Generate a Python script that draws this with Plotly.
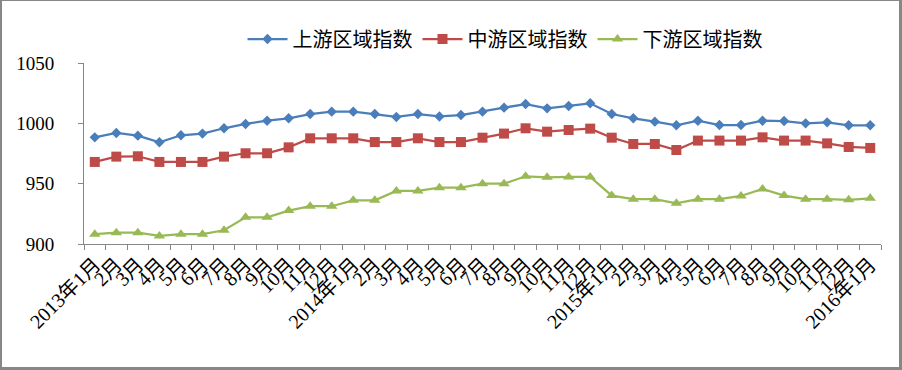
import plotly.graph_objects as go

months = (["2013年1月"] + [f"{m}月" for m in range(2, 13)] +
          ["2014年1月"] + [f"{m}月" for m in range(2, 13)] +
          ["2015年1月"] + [f"{m}月" for m in range(2, 13)] +
          ["2016年1月"])
keys = [f"c{i}" for i in range(len(months))]

upstream = [988.4, 992.0, 989.8, 984.3, 990.1, 991.5, 995.9, 999.5, 1002.2, 1004.2,
            1007.7, 1009.7, 1009.7, 1007.7, 1005.3, 1007.7, 1005.7, 1006.9, 1009.7, 1013.0,
            1016.0, 1012.4, 1014.4, 1016.6, 1007.7, 1004.2, 1001.4, 998.4, 1002.2, 998.6,
            998.6, 1002.2, 1001.9, 1000.0, 1000.8, 998.4, 998.4]
midstream = [968.0, 972.4, 972.7, 968.0, 968.0, 968.0, 972.4, 975.2, 975.2, 980.1,
             987.6, 987.6, 987.6, 984.5, 984.5, 987.6, 984.5, 984.5, 988.1, 991.5,
             995.9, 993.1, 994.5, 995.6, 988.1, 982.9, 982.9, 977.9, 985.7, 985.7,
             985.7, 988.4, 985.7, 985.7, 983.4, 980.4, 979.6]
downstream = [908.1, 909.4, 909.4, 906.7, 908.1, 908.1, 911.4, 922.1, 922.1, 927.7,
              931.3, 931.3, 936.2, 936.2, 944.0, 944.0, 946.7, 946.7, 950.0, 950.0,
              956.1, 955.3, 955.6, 955.6, 940.1, 937.1, 937.1, 933.7, 937.1, 937.1,
              939.8, 945.6, 940.1, 937.1, 937.1, 936.6, 937.9]

series_names = ["上游区域指数", "中游区域指数", "下游区域指数"]
colors = ["#4A7EBB", "#BE4B48", "#98B954"]
symbols = ["diamond", "square", "triangle-up"]
sizes = [8, 10, 10]

fig = go.Figure()
for name, vals, c, s, sz in zip(series_names, [upstream, midstream, downstream], colors, symbols, sizes):
    fig.add_trace(go.Scatter(
        x=keys, y=vals, name=name, mode="lines+markers",
        line=dict(color=c, width=2.25),
        marker=dict(symbol=s, size=sz, color=c, line=dict(width=0)),
    ))

W, H = 902, 370
L, R, T, B = 84, 21, 63, 126
pw, ph = W - L - R, H - T - B

def px_x(px):
    return (px - L) / pw

def px_y(py):
    return (H - B - py) / ph

border = "#878787"
def edge(x0, y0, x1, y1, w):
    return dict(type="line", xref="paper", yref="paper",
                x0=px_x(x0), y0=px_y(y0), x1=px_x(x1), y1=px_y(y1),
                line=dict(color=border, width=w), layer="above")

fig.update_layout(
    width=W, height=H,
    margin=dict(l=L, r=R, t=T, b=B, autoexpand=False),
    paper_bgcolor="white", plot_bgcolor="white",
    showlegend=True,
    legend=dict(orientation="h", x=px_x(505), xanchor="center", y=px_y(39), yanchor="middle",
                font=dict(family="Noto Sans CJK SC", size=20, color="#000000"),
                itemwidth=40, bgcolor="rgba(0,0,0,0)"),
    xaxis=dict(
        type="category", tickmode="array", tickvals=keys, ticktext=months,
        tickangle=-45, tickson="boundaries", ticks="outside", ticklen=5,
        tickcolor="#868686", showline=True, linecolor="#868686", linewidth=1,
        showgrid=False, zeroline=False,
        tickfont=dict(family="Liberation Serif, Noto Sans CJK SC", size=20, color="#000000"),
        range=[-0.5, len(keys) - 0.5],
    ),
    yaxis=dict(
        range=[900, 1050], tickvals=[900, 950, 1000, 1050], ticks="outside", ticklen=5,
        tickcolor="#868686", showline=True, linecolor="#868686", linewidth=1,
        showgrid=False, zeroline=False, ticklabelstandoff=20,
        tickfont=dict(family="Liberation Serif", size=19, color="#000000"),
    ),
    shapes=[edge(0, 0.5, 902, 0.5, 1),
            edge(1, 0, 1, 370, 2),
            edge(900.5, 0, 900.5, 370, 3),
            edge(0, 368.5, 902, 368.5, 3)],
)

fig.write_html("out.html", config={"displayModeBar": False},
               post_script="document.body.style.margin='0px';document.body.style.overflow='hidden';")
